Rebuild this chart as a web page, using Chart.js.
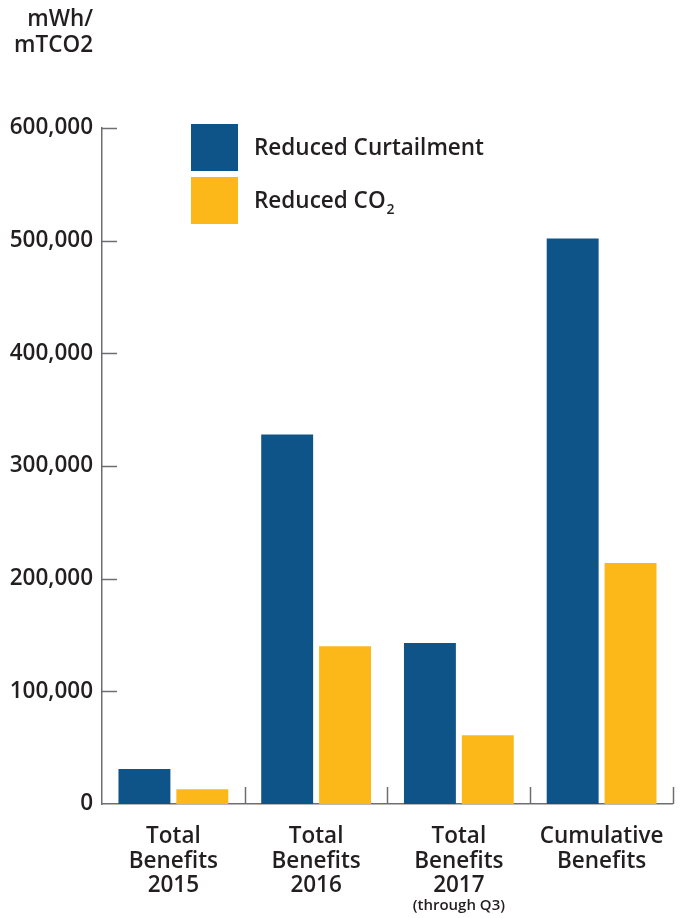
<!DOCTYPE html>
<html>
<head>
<meta charset="utf-8">
<script src="https://cdn.jsdelivr.net/npm/chart.js@4.4.1/dist/chart.umd.min.js"></script>
<style>
  html, body { margin: 0; padding: 0; background: #fff; }
  #wrap { width: 685px; height: 918px; position: relative; }
</style>
</head>
<body>
<div id="wrap"><canvas id="benefitsChart"></canvas></div>
<script>
// Chart data
const categories = [
    ['Total', 'Benefits', '2015'],
    ['Total', 'Benefits', '2016'],
    ['Total', 'Benefits', '2017'],
    ['Cumulative', 'Benefits']
];
const categoryNotes = ['', '', '(through Q3)', ''];
const curtailment = [31000, 328000, 143000, 502000];
const co2Reduced = [13000, 140000, 61000, 214000];
const seriesNames = ['Reduced Curtailment', 'Reduced CO'];
const seriesSubscripts = ['', '2'];
const unitLines = ['mWh/', 'mTCO2'];
const yTicks = [0, 100000, 200000, 300000, 400000, 500000, 600000];

// Styling
const BLUE = '#0e5489';
const YELLOW = '#fcb719';
const TEXT = '#231f20';
const AXIS = '#6d6e71';
const FONT = '"Open Sans", sans-serif';

// Extra drawing: inward ticks, category dividers, unit label, legend, notes
const decorations = {
    id: 'decorations',
    afterDraw(chart) {
        const ctx = chart.ctx;
        const area = chart.chartArea;
        const x = chart.scales.x;
        const y = chart.scales.y;

        ctx.save();
        ctx.strokeStyle = AXIS;
        ctx.lineWidth = 1.5;

        // y ticks pointing into the plot
        yTicks.forEach(v => {
            if (v === 0) return;
            const py = Math.round(y.getPixelForValue(v)) + 0.5;
            ctx.beginPath();
            ctx.moveTo(area.left, py);
            ctx.lineTo(area.left + 15, py);
            ctx.stroke();
        });

        // category dividers along the x axis
        for (let i = 0; i < categories.length; i++) {
            const px = Math.round(x.getPixelForValue(i + 0.5)) + 0.5;
            ctx.beginPath();
            ctx.moveTo(px, area.bottom);
            ctx.lineTo(px, area.bottom - 17);
            ctx.stroke();
        }

        // unit label above the y axis
        ctx.fillStyle = TEXT;
        ctx.font = '600 22.5px ' + FONT;
        ctx.textAlign = 'right';
        ctx.textBaseline = 'middle';
        unitLines.forEach((t, i) => ctx.fillText(t, area.left - 9, 20 + i * 26));

        // legend
        const colors = [BLUE, YELLOW];
        ctx.textAlign = 'left';
        seriesNames.forEach((name, i) => {
            const top = area.top - 4 + i * 53;
            ctx.fillStyle = colors[i];
            ctx.fillRect(191, top, 47, 47);
            ctx.fillStyle = TEXT;
            ctx.font = '600 22.5px ' + FONT;
            ctx.fillText(name, 254, top + 25);
            if (seriesSubscripts[i]) {
                const w = ctx.measureText(name).width;
                ctx.font = '600 14px ' + FONT;
                ctx.fillText(seriesSubscripts[i], 254 + w + 1, top + 33);
            }
        });

        // small notes under category labels
        ctx.font = '600 15px ' + FONT;
        ctx.textAlign = 'center';
        categoryNotes.forEach((note, i) => {
            if (!note) return;
            ctx.fillText(note, x.getPixelForValue(i), area.bottom + 102);
        });
        ctx.restore();
    }
};

new Chart(document.getElementById('benefitsChart'), {
    type: 'bar',
    data: {
        labels: categories,
        datasets: [
            { label: 'Reduced Curtailment', data: curtailment, backgroundColor: BLUE },
            { label: 'Reduced CO2', data: co2Reduced, backgroundColor: YELLOW }
        ]
    },
    options: {
        responsive: true,
        maintainAspectRatio: false,
        animation: false,
        events: [],
        layout: { padding: { top: 128, right: 12, left: 0, bottom: 0 } },
        datasets: { bar: { categoryPercentage: 0.811, barPercentage: 0.897 } },
        plugins: { legend: { display: false }, tooltip: { enabled: false } },
        scales: {
            x: {
                grid: { display: false, drawTicks: false },
                border: { display: true, color: AXIS, width: 1.5 },
                ticks: {
                    color: TEXT,
                    font: { family: FONT, size: 22.5, weight: '600', lineHeight: 1.1 },
                    padding: 20,
                    maxRotation: 0,
                    autoSkip: false
                },
                afterFit: scale => { scale.height = 114; }
            },
            y: {
                min: 0,
                max: 600000,
                grid: { display: false, drawTicks: false },
                border: { display: true, color: AXIS, width: 1.5 },
                afterBuildTicks: axis => { axis.ticks = yTicks.map(v => ({ value: v })); },
                ticks: {
                    color: TEXT,
                    font: { family: FONT, size: 22.5, weight: '600' },
                    padding: 9,
                    callback: v => v.toLocaleString('en-US')
                },
                afterFit: scale => { scale.width = 102; }
            }
        }
    },
    plugins: [decorations]
});
</script>
</body>
</html>
